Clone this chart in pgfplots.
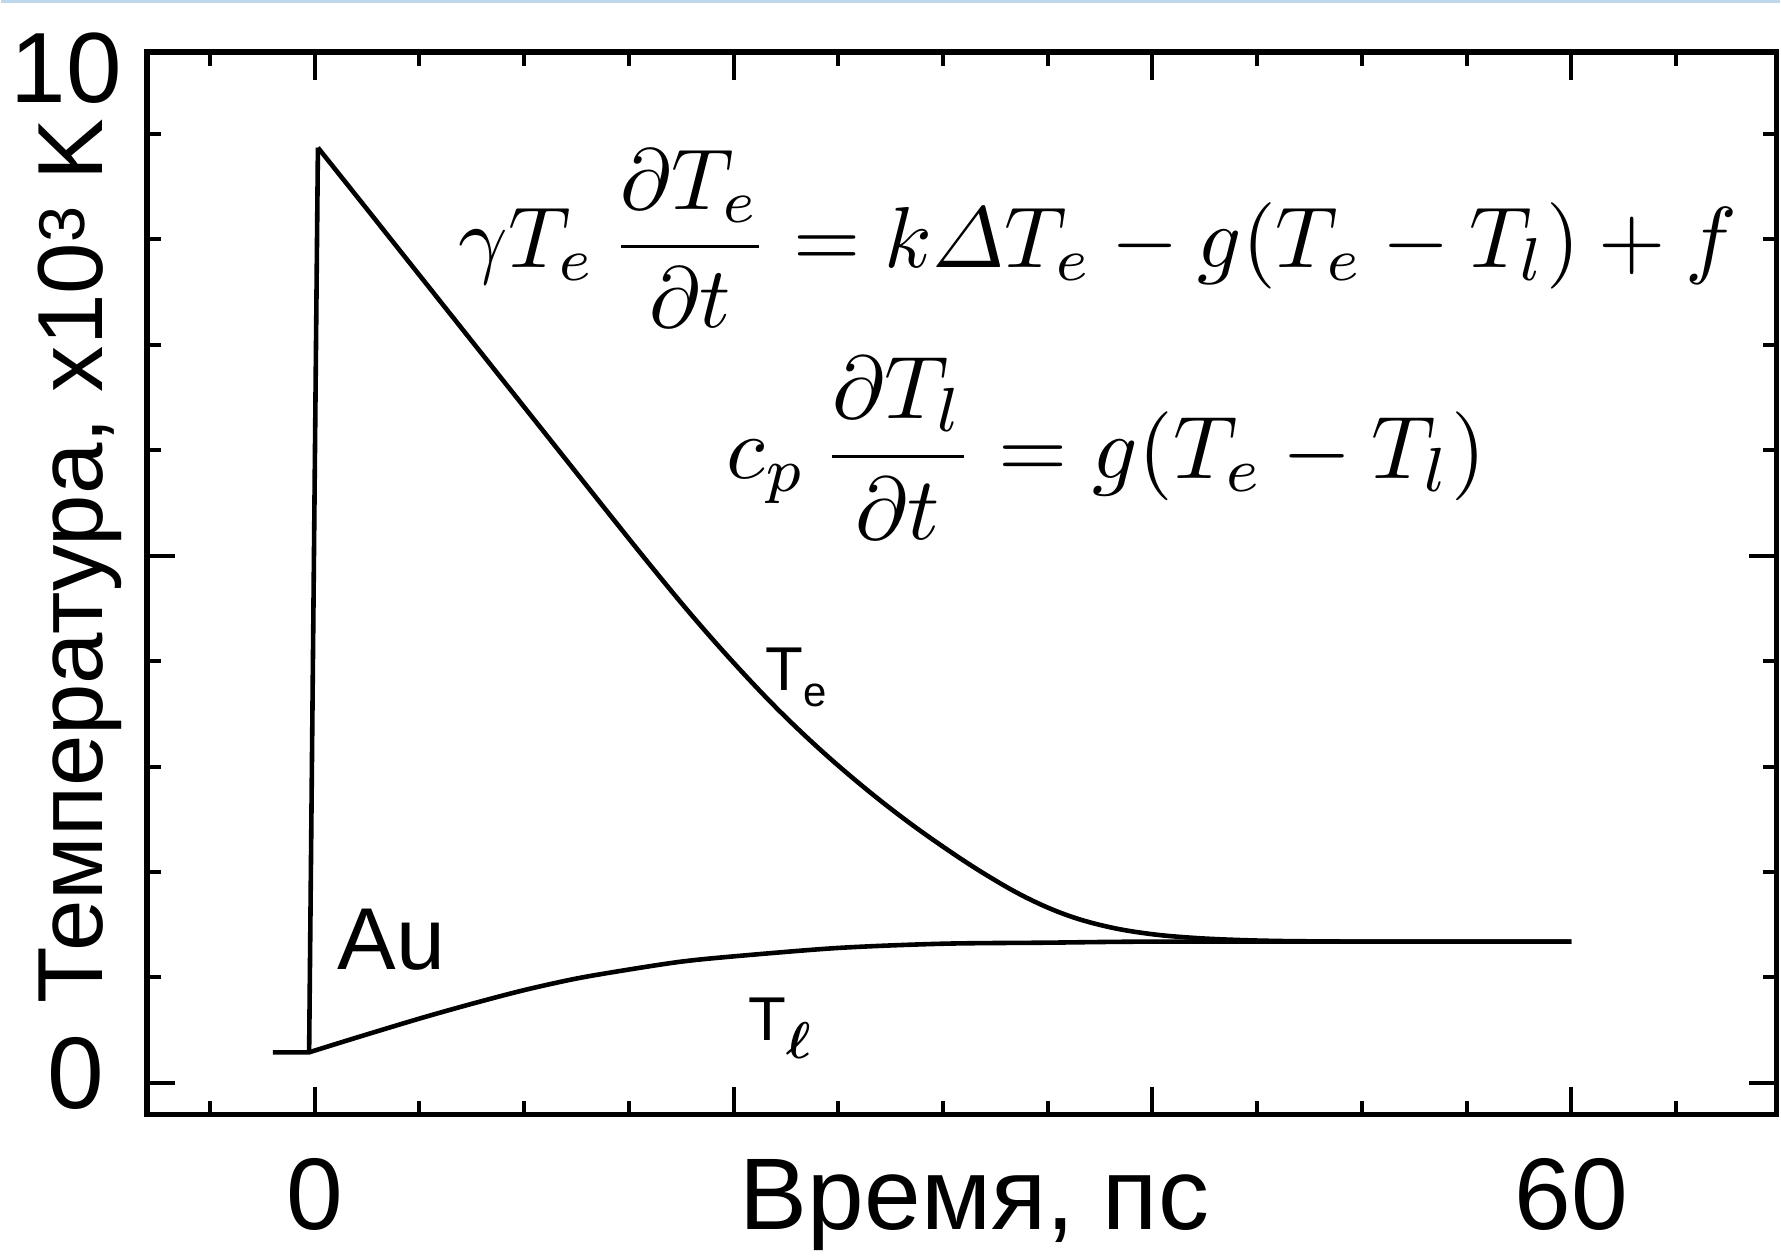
\documentclass[border=0pt]{standalone}
\usepackage{fontspec}
\setmainfont{Liberation Sans}
\usepackage{amsmath}
\usepackage{graphicx}
\usepackage{pgfplots}
\pgfplotsset{compat=1.18}
\usetikzlibrary{calc}
\begin{document}
\begin{tikzpicture}
\begin{axis}[
  scale only axis, width=816pt, height=532.3pt,
  xmin=-8, xmax=69.8, ymin=-0.3, ymax=9.78,
  axis line style={line width=2.8pt, black},
  xtick={0,20,40,60}, minor xtick={-5,5,10,15,25,30,35,45,50,55,65},
  ytick={0,5}, minor ytick={1,2,3,4,6,7,8,9},
  xticklabel=\empty, yticklabel=\empty,
  major tick length=14pt, minor tick length=7pt,
  every tick/.style={black, line width=2pt},
  clip=false,
]
% T_e : flat part and rise
\addplot[black, line width=2.3pt, line join=round] coordinates {(-2,0.29) (-0.27,0.29) (0.15,8.87)};
% T_e decay
\addplot[black, line width=2.3pt, smooth, tension=0.6, line join=round] coordinates {
(0.15,8.87) (2,8.41) (4,7.91) (6,7.41) (8,6.91) (10,6.41) (12,5.91) (14,5.41) (16,4.915)
(18,4.435) (20,3.985) (22,3.565) (24,3.185) (26,2.84) (28,2.525) (30,2.24) (32,1.98)
(34,1.755) (36,1.585) (38,1.475) (40,1.41) (42,1.375) (44,1.356) (46,1.346) (48,1.342)
(50,1.34) (55,1.34) (60,1.34)};
% T_l
\addplot[black, line width=2.3pt, smooth, tension=0.5] coordinates {
(-0.27,0.29) (2,0.43) (5,0.61) (7.5,0.75) (10,0.88) (12.5,0.99) (15,1.075) (17.5,1.15)
(20,1.20) (25,1.28) (30,1.32) (35,1.33) (40,1.34) (50,1.34) (60,1.34)};

% curve labels
\node[anchor=base west, inner sep=0, font=\fontsize{31}{31}\selectfont] at (axis cs:21.5,3.72)
  {T{\fontsize{21}{21}\selectfont\raisebox{-8pt}{e}}};
\node[anchor=base west, inner sep=0, font=\fontsize{31}{31}\selectfont] at (axis cs:20.7,0.40)
  {T\raisebox{-9pt}{\scalebox{1.25}{\fontsize{20.74}{22}\selectfont$\boldsymbol{\ell}$}}};
\node[anchor=base west, inner sep=0, font=\fontsize{44}{44}\selectfont] at (axis cs:1.08,1.075) {Au};

% equations
\node[anchor=center, inner sep=0] at (axis cs:37.4,8.01)
  {\resizebox{640pt}{!}{$\displaystyle \gamma T_e\,\frac{\partial T_e}{\partial t} = k\varDelta T_e - g(T_e - T_l) + f$}};
\node[anchor=center, inner sep=0] at (axis cs:37.8,6.02)
  {\resizebox{380pt}{!}{$\displaystyle c_p\,\frac{\partial T_l}{\partial t} = g(T_e - T_l)$}};

% tick labels and axis labels
\node[anchor=base, inner sep=0, font=\fontsize{51}{51}\selectfont] at (axis cs:0,-1.389) {0};
\node[anchor=base, inner sep=0, font=\fontsize{51}{51}\selectfont] at (axis cs:60,-1.389) {60};
\node[anchor=base, inner sep=0, font=\fontsize{51}{51}\selectfont] at (axis cs:31.5,-1.389) {Время, пс};
\node[anchor=base, inner sep=0, font=\fontsize{51}{51}\selectfont] at (axis cs:-11.42,-0.247) {0};
\node[anchor=base, inner sep=0, font=\fontsize{50}{50}\selectfont] at (axis cs:-11.86,9.30) {10};
\node[anchor=base, rotate=90, inner sep=0, font=\fontsize{46.3}{46.3}\selectfont] at (axis cs:-10.12,4.95)
  {Температура, x10\textsuperscript{3} K};
\end{axis}
\pgfresetboundingbox
\coordinate (BL) at ($(current axis.south west)+(-73pt,-71.8pt)$);
\path (BL) rectangle ++(890.5pt,630pt);
\draw[color={rgb,255:red,190;green,215;blue,235}, line width=1.5pt]
  ($(BL)+(0,629.25pt)$) -- ($(BL)+(890.5pt,629.25pt)$);
\end{tikzpicture}
\end{document}
